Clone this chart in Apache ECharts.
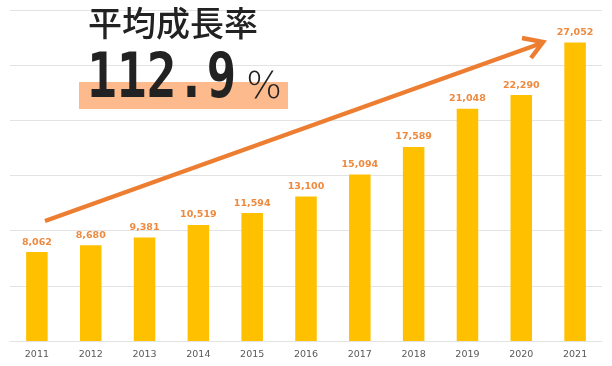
<!DOCTYPE html>
<html><head><meta charset="utf-8">
<script src="https://cdn.jsdelivr.net/npm/echarts@6/dist/echarts.min.js"></script>
<style>html,body{margin:0;padding:0;background:#fff}#c{width:612px;height:366px}</style>
</head><body><div id="c"></div>
<script>
const years = ['2011','2012','2013','2014','2015','2016','2017','2018','2019','2020','2021'];
const values = [8062, 8680, 9381, 10519, 11594, 13100, 15094, 17589, 21048, 22290, 27052];
const titleText = '平均成長率';
const rateText = '112.9';
const rateUnit = '%';

const chart = echarts.init(document.getElementById('c'), null, {renderer: 'canvas'});
chart.setOption({
  animation: false,
  grid: {left: 10, right: 10, top: 10, bottom: 25, containLabel: false},
  xAxis: {
    type: 'category', data: years,
    axisLine: {show: true, lineStyle: {color: '#e3e3e3', width: 1}},
    axisTick: {show: false},
    axisLabel: {color: '#595959', fontFamily: 'DejaVu Sans', fontSize: 9.5, margin: 9}
  },
  yAxis: {
    type: 'value', min: 0, max: 30000, interval: 5000,
    axisLabel: {show: false}, axisLine: {show: false}, axisTick: {show: false},
    splitLine: {lineStyle: {color: '#e3e3e3', width: 1}}
  },
  series: [{
    type: 'bar', data: values, barWidth: '40%',
    itemStyle: {color: '#FFC000'},
    label: {
      show: true, position: 'top', distance: 5,
      color: '#EE8A40', fontFamily: 'DejaVu Sans', fontSize: 9.5, fontWeight: 'bold',
      formatter: p => p.value.toLocaleString('en-US')
    }
  }],
  graphic: [
    {type: 'rect', shape: {x: 79, y: 82, width: 209, height: 27}, style: {fill: '#FDBB8D'}, z: 10},
    {type: 'text', x: 88, y: 23, style: {text: titleText, font: '500 34px "Noto Sans CJK JP"', fill: '#222', verticalAlign: 'middle'}, z: 11},
    {type: 'text', x: 87, y: 81, scaleX: 0.8, style: {text: rateText, font: 'bold 62px "DejaVu Sans Mono"', fill: '#222', verticalAlign: 'middle'}, z: 11},
    {type: 'text', x: 246, y: 88, style: {text: rateUnit, font: '300 38px "DejaVu Sans"', fill: '#222', verticalAlign: 'middle'}, z: 11},
    {type: 'polyline', shape: {points: [[45, 221], [542, 43]]}, style: {stroke: '#ED7D31', lineWidth: 4.5, lineCap: 'butt'}, z: 12},
    {type: 'polyline', shape: {points: [[522, 38], [543, 42], [531, 58]]}, style: {stroke: '#ED7D31', lineWidth: 4.5, lineJoin: 'miter', fill: null}, z: 12}
  ]
});
</script></body></html>
